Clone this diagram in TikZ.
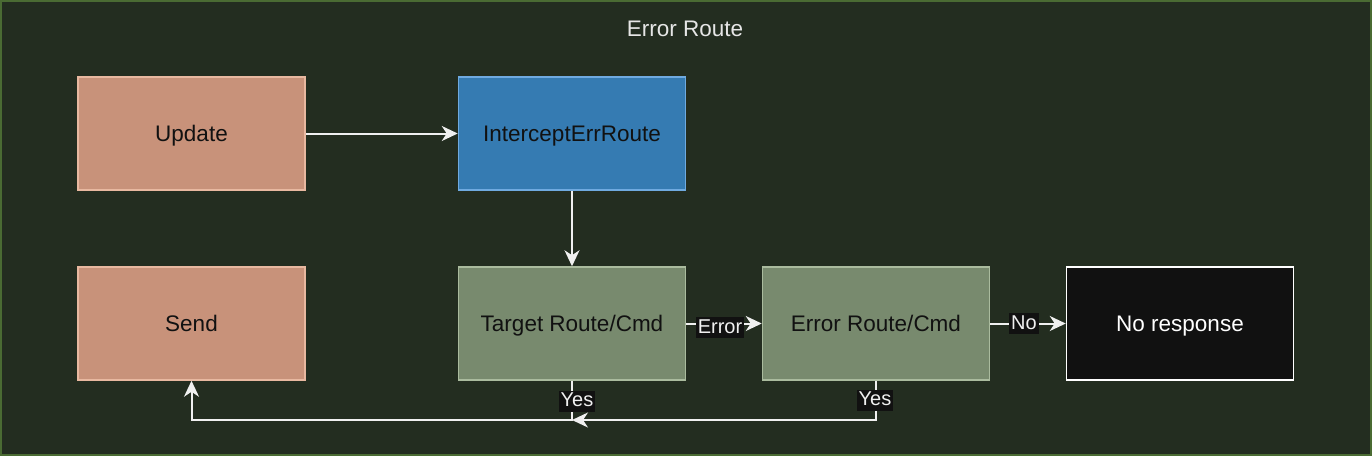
\documentclass[tikz,border=0pt]{standalone}
\usepackage{fontspec}
\setmainfont{Liberation Sans}
\usetikzlibrary{arrows.meta}
\definecolor{bgc}{HTML}{232D20}
\definecolor{bgborder}{HTML}{4A6B33}
\definecolor{salfill}{HTML}{C8927A}
\definecolor{salline}{HTML}{E8B8A0}
\definecolor{bluefill}{HTML}{357BB2}
\definecolor{blueline}{HTML}{6FAAE0}
\definecolor{grnfill}{HTML}{788A6E}
\definecolor{grnline}{HTML}{AABB9E}
\definecolor{blk}{HTML}{111111}
\definecolor{edgec}{HTML}{F0F0F0}
\definecolor{titlec}{HTML}{E6E6E6}
\tikzset{
  box/.style={draw, line width=1.5pt, minimum width=227pt, minimum height=113pt, inner sep=0pt,
    font=\fontsize{22.5}{27}\selectfont, text=blk, text height=18pt, text depth=2pt},
  salbox/.style={box, fill=salfill, draw=salline},
  bluebox/.style={box, fill=bluefill, draw=blueline},
  grnbox/.style={box, fill=grnfill, draw=grnline},
  blkbox/.style={box, fill=blk, draw=white, text=white},
  conn/.style={draw=edgec, line width=2pt, -{Stealth[length=16pt,width=15pt,inset=5pt]}},
  elabel/.style={fill=blk, text=edgec, inner sep=2pt, font=\fontsize{20}{24}\selectfont,
    text height=14pt, text depth=3pt}
}
\begin{document}
\begin{tikzpicture}[x=1pt,y=-1pt]
\useasboundingbox (0,0) rectangle (1372,456);
\filldraw[fill=bgc, draw=bgborder, line width=2pt] (1,1) rectangle (1371,455);
\node[text=titlec, font=\fontsize{22.5}{27}\selectfont] (title) at (685,29) {Error Route};
\node[salbox] (update) at (191.5,133.5) {Update};
\node[bluebox] (intercept) at (572,133.5) {InterceptErrRoute};
\node[salbox] (send) at (191.5,323.5) {Send};
\node[grnbox] (target) at (572,323.5) {Target Route/Cmd};
\node[grnbox] (errroute) at (876,323.5) {Error Route/Cmd};
\node[blkbox] (noresp) at (1180,323.5) {No response};
\coordinate (j) at (572,420);
\draw[conn] (update) -- (intercept);
\draw[conn] (intercept) -- (target);
\draw[conn] (target) -- node[elabel, xshift=-4pt, yshift=-4pt] (lerr) {Error} (errroute);
\draw[conn] (errroute) -- node[elabel, xshift=-4pt] (lno) {No} (noresp);
\draw[conn] (target.south) -- (j) -| (send.south);
\draw[conn] (errroute.south) |- (j);
\node[elabel] (lyes1) at (577,401) {Yes};
\node[elabel] (lyes2) at (875,400) {Yes};
\end{tikzpicture}
\end{document}
